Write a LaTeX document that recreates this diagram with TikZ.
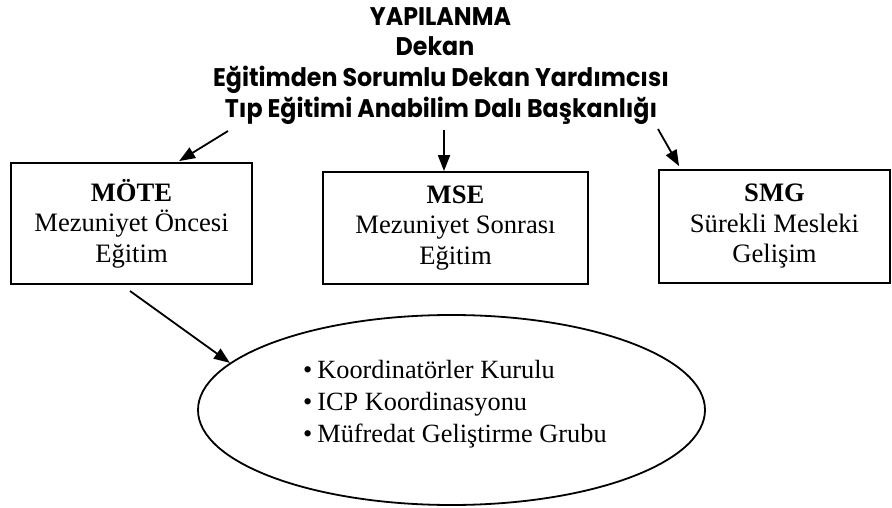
\documentclass[tikz,border=0pt]{standalone}
\usepackage{fontspec}
\setmainfont{Liberation Serif}
\newfontfamily\titlefont{Poppins}[FakeStretch=0.93]
\usetikzlibrary{arrows.meta,shapes.geometric,calc}
\tikzset{
  ttl/.style={anchor=base,inner sep=0pt,font=\titlefont\bfseries\fontsize{25.5}{25.5}\selectfont},
  unitbox/.style={draw,line width=1.8pt,inner sep=0pt,align=center,font=\fontsize{26.6}{30.5}\selectfont},
  arr/.style={line width=1.8pt,-{Triangle[length=16pt,width=12pt]}},
  item/.style={anchor=base west,inner sep=0pt,font=\fontsize{26.3}{26.3}\selectfont}
}
\begin{document}
\begin{tikzpicture}[x=1pt,y=-1pt]
\useasboundingbox (0,0) rectangle (892,508);
\node[ttl] (t0) at (440.5,26) {YAPILANMA};
\node[ttl] (t1) at (435,56) {Dekan};
\node[ttl] (t2) at (441,87) {Eğitimden Sorumlu Dekan Yardımcısı};
\node[ttl] (t3) at (441,118) {Tıp Eğitimi Anabilim Dalı Başkanlığı};
\node[unitbox,minimum width=241pt,minimum height=121pt] (mote) at (131.5,223.5)
  {\textbf{MÖTE}\\Mezuniyet Öncesi\\Eğitim};
\node[unitbox,minimum width=265pt,minimum height=112pt] (mse) at (455.5,228)
  {\textbf{MSE}\\Mezuniyet Sonrası\\Eğitim};
\node[unitbox,minimum width=231pt,minimum height=113pt] (smg) at (774.5,226.5)
  {\textbf{SMG}\\Sürekli Mesleki\\Gelişim};
\node[draw,ellipse,line width=1.8pt,inner sep=0pt,minimum width=507pt,minimum height=190pt] (ell) at (451.5,410) {};
\node[item] (i1) at (303,378) {\textbullet\hspace{5pt}Koordinatörler Kurulu};
\node[item] (i2) at (303,410) {\textbullet\hspace{5pt}ICP Koordinasyonu};
\node[item] (i3) at (303,442) {\textbullet\hspace{5pt}Müfredat Geliştirme Grubu};
\coordinate (a1) at (228,131);
\coordinate (a2) at (444,130);
\coordinate (a3) at (658,129);
\coordinate (a4) at (130,291);
\draw[arr] (a1) -- ($(mote.north west)+(169,-1)$);
\draw[arr] (a2) -- (a2 |- mse.north);
\draw[arr] (a3) -- ($(smg.north west)+(21,-3)$);
\draw[arr] (a4) -- (ell.168);
\end{tikzpicture}
\end{document}
